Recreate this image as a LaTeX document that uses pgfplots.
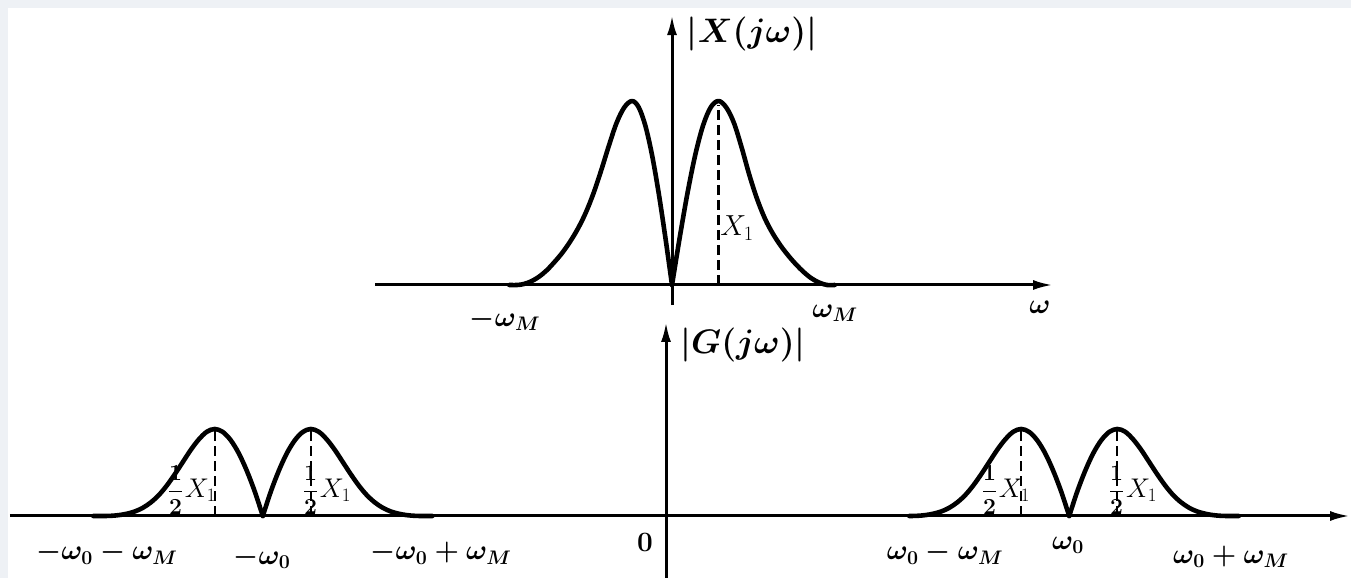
\RequirePackage{fix-cm}
\documentclass[border=0pt]{standalone}
\usepackage{pgfplots}
\pgfplotsset{compat=1.18}
\usetikzlibrary{arrows.meta}
\definecolor{band}{HTML}{EEF1F5}
\pgfplotsset{
  spec/.style={
    axis lines=middle, xtick=\empty, ytick=\empty, clip=false,
    axis line style={line width=3pt, -{Latex[length=20pt,width=10pt]}},
    every axis plot/.append style={line width=4.6pt, line join=round, line cap=round, smooth, tension=0.55},
  },
  peakline/.style={line width=2.2pt, dash pattern=on 10pt off 5pt, line cap=butt},
}
\newcommand{\lblA}{\fontsize{34}{36}\selectfont\boldmath}
\newcommand{\lblB}{\fontsize{28}{30}\selectfont\boldmath}
\newcommand{\half}{{\fontsize{23}{25}\selectfont\boldmath$\displaystyle\frac{1}{2}$}\,{\fontsize{27}{29}\selectfont$X_1$}}
\begin{document}
\begin{tikzpicture}
\useasboundingbox (0,0) rectangle (1351pt,578pt);
\fill[white] (0,0) rectangle (1351pt,578pt);
\fill[band] (0,570pt) rectangle (1351pt,578pt);
\fill[band] (0,0) rectangle (8pt,578pt);

% ---------- top: |X(j omega)| ----------
\begin{axis}[spec, x=155pt, y=184pt,
  xmin=-1.916, xmax=2.458, ymin=-0.109, ymax=1.467,
  anchor=origin, at={(672pt,293pt)}]
\addplot[black] coordinates {(-1.05,0) (-1.0,0) (-0.958,0.005) (-0.908,0.02) (-0.858,0.045)
  (-0.808,0.08) (-0.758,0.125) (-0.708,0.175) (-0.658,0.235) (-0.608,0.305) (-0.558,0.39)
  (-0.508,0.495) (-0.458,0.62) (-0.408,0.755) (-0.358,0.88) (-0.308,0.965) (-0.258,1.0)
  (-0.215,0.966) (-0.172,0.866) (-0.129,0.707) (-0.086,0.5) (-0.043,0.259) (0,0)};
\addplot[black] coordinates {(0,0) (0.05,0.259) (0.1,0.5) (0.15,0.707) (0.2,0.866)
  (0.25,0.966) (0.3,1.0) (0.35,0.965) (0.4,0.88) (0.45,0.745) (0.5,0.595) (0.55,0.465)
  (0.6,0.36) (0.65,0.28) (0.7,0.215) (0.75,0.16) (0.8,0.112) (0.85,0.07) (0.9,0.036)
  (0.95,0.013) (1.0,0) (1.05,0)};
\addplot[peakline, sharp plot] coordinates {(0.3,0) (0.3,0.98)};
\node[font=\lblA] at (axis cs:0.516,1.364) {$|X(j\omega)|$};
\node[font=\lblB] at (axis cs:-1.077,-0.19) {$-\omega_M$};
\node[font=\lblB] at (axis cs:1.052,-0.152) {$\omega_M$};
\node[font=\lblB] at (axis cs:2.374,-0.12) {$\omega$};
\node[font=\fontsize{29}{31}\selectfont] at (axis cs:0.42,0.31) {$X_1$};
\end{axis}

% ---------- bottom: |G(j omega)| ----------
\begin{axis}[spec, x=160pt, y=174pt,
  xmin=-4.1, xmax=4.275, ymin=-0.356, ymax=1.115,
  anchor=origin, at={(666pt,62pt)}]
% left group around -omega_0
\addplot[black] coordinates {(-3.58,0) (-3.52,0) (-3.47,0.001) (-3.42,0.005) (-3.37,0.013)
  (-3.32,0.026) (-3.27,0.047) (-3.22,0.078) (-3.17,0.12) (-3.12,0.175) (-3.07,0.24)
  (-3.02,0.31) (-2.97,0.38) (-2.92,0.44) (-2.87,0.484) (-2.82,0.5) (-2.77,0.483)
  (-2.72,0.435) (-2.67,0.36) (-2.62,0.26) (-2.57,0.14) (-2.52,0)};
\addplot[black] coordinates {(-2.52,0) (-2.47,0.14) (-2.42,0.26) (-2.37,0.36) (-2.32,0.435)
  (-2.27,0.483) (-2.22,0.5) (-2.17,0.484) (-2.12,0.44) (-2.07,0.38) (-2.02,0.31)
  (-1.97,0.24) (-1.92,0.175) (-1.87,0.12) (-1.82,0.078) (-1.77,0.047) (-1.72,0.026)
  (-1.67,0.013) (-1.62,0.005) (-1.57,0.001) (-1.52,0) (-1.46,0)};
% right group around +omega_0
\addplot[black] coordinates {(1.52,0) (1.57,0.001) (1.62,0.005) (1.67,0.013) (1.72,0.026)
  (1.77,0.047) (1.82,0.078) (1.87,0.12) (1.92,0.175) (1.97,0.24) (2.02,0.31) (2.07,0.38)
  (2.12,0.44) (2.17,0.484) (2.22,0.5) (2.27,0.483) (2.32,0.435) (2.37,0.36) (2.42,0.26)
  (2.47,0.14) (2.52,0)};
\addplot[black] coordinates {(2.52,0) (2.57,0.14) (2.62,0.26) (2.67,0.36) (2.72,0.435)
  (2.77,0.483) (2.82,0.5) (2.87,0.484) (2.92,0.44) (2.97,0.38) (3.02,0.31) (3.07,0.24)
  (3.12,0.175) (3.17,0.12) (3.22,0.078) (3.27,0.047) (3.32,0.026) (3.37,0.013)
  (3.42,0.005) (3.47,0.001) (3.52,0) (3.58,0)};
\addplot[peakline, sharp plot] coordinates {(-2.82,0) (-2.82,0.49)};
\addplot[peakline, sharp plot] coordinates {(-2.22,0) (-2.22,0.49)};
\addplot[peakline, sharp plot] coordinates {(2.22,0) (2.22,0.49)};
\addplot[peakline, sharp plot] coordinates {(2.82,0) (2.82,0.49)};
\node[font=\lblA] at (axis cs:0.481,0.983) {$|G(j\omega)|$};
\node[font=\lblB] at (axis cs:-3.494,-0.213) {$-\omega_0-\omega_M$};
\node[font=\lblB] at (axis cs:-2.525,-0.241) {$-\omega_0$};
\node[font=\lblB] at (axis cs:-1.406,-0.213) {$-\omega_0+\omega_M$};
\node[font=\lblB] at (axis cs:-0.131,-0.155) {$0$};
\node[font=\lblB] at (axis cs:1.744,-0.213) {$\omega_0-\omega_M$};
\node[font=\lblB] at (axis cs:2.5125,-0.167) {$\omega_0$};
\node[font=\lblB] at (axis cs:3.531,-0.236) {$\omega_0+\omega_M$};
\node[inner sep=0pt] at (axis cs:-2.9625,0.15) {\half};
\node[inner sep=0pt] at (axis cs:-2.119,0.15) {\half};
\node[inner sep=0pt] at (axis cs:2.125,0.15) {\half};
\node[inner sep=0pt] at (axis cs:2.919,0.15) {\half};
\end{axis}
\end{tikzpicture}
\end{document}
